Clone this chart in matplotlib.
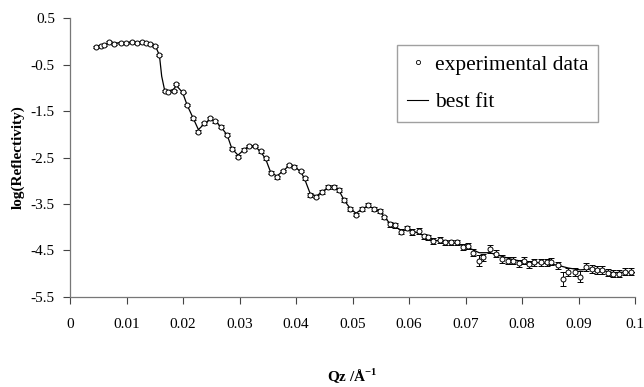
import matplotlib
matplotlib.use("Agg")
import matplotlib.pyplot as plt
from matplotlib.lines import Line2D

plt.rcParams['font.family'] = ['Liberation Serif', 'DejaVu Serif']
plt.rcParams['mathtext.fontset'] = 'custom'
plt.rcParams['mathtext.rm'] = 'Liberation Serif'
plt.rcParams['mathtext.bf'] = 'Liberation Serif:bold'

# measured reflectivity (log10) vs momentum transfer
q = [0.0046, 0.0054, 0.0060, 0.0069, 0.0077, 0.0090, 0.0098, 0.0109, 0.0118, 0.0127,
     0.0135, 0.0142, 0.0151, 0.0158, 0.0167, 0.0174, 0.0183, 0.0188, 0.0199, 0.0207,
     0.0218, 0.0227, 0.0237, 0.0248, 0.0257, 0.0267, 0.0278, 0.0286, 0.0297, 0.0308,
     0.0316, 0.0327, 0.0337, 0.0346, 0.0355, 0.0366, 0.0376, 0.0387, 0.0397, 0.0408,
     0.0415, 0.0425, 0.0436, 0.0446, 0.0457, 0.0467, 0.0476, 0.0485, 0.0496, 0.0506,
     0.0517, 0.0527, 0.0538, 0.0548, 0.0555, 0.0566, 0.0575, 0.0585, 0.0596, 0.0606,
     0.0617, 0.0626, 0.0634, 0.0643, 0.0654, 0.0664, 0.0675, 0.0685, 0.0696, 0.0705,
     0.0714, 0.0724, 0.0731, 0.0743, 0.0754, 0.0765, 0.0775, 0.0784, 0.0794, 0.0803,
     0.0812, 0.0822, 0.0833, 0.0844, 0.0852, 0.0863, 0.0872, 0.0882, 0.0893, 0.0903,
     0.0914, 0.0924, 0.0933, 0.0942, 0.0953, 0.0961, 0.0972, 0.0982, 0.0993]
log_r = [-0.12, -0.10, -0.08, -0.01, -0.05, -0.03, -0.03, -0.01, -0.03, -0.01,
         -0.03, -0.05, -0.10, -0.30, -1.06, -1.08, -1.06, -0.92, -1.10, -1.37,
         -1.66, -1.94, -1.76, -1.66, -1.72, -1.84, -2.01, -2.31, -2.48, -2.33,
         -2.25, -2.25, -2.37, -2.52, -2.83, -2.93, -2.79, -2.66, -2.70, -2.79,
         -2.95, -3.30, -3.34, -3.24, -3.13, -3.13, -3.20, -3.42, -3.61, -3.73,
         -3.61, -3.52, -3.61, -3.65, -3.79, -3.94, -3.96, -4.10, -4.02, -4.10,
         -4.08, -4.20, -4.22, -4.30, -4.28, -4.33, -4.33, -4.33, -4.43, -4.41,
         -4.55, -4.72, -4.65, -4.47, -4.57, -4.69, -4.72, -4.72, -4.78, -4.72,
         -4.80, -4.76, -4.76, -4.76, -4.74, -4.82, -5.11, -4.96, -4.96, -5.07,
         -4.86, -4.90, -4.92, -4.92, -4.98, -5.00, -5.00, -4.96, -4.96]
err = [0.02, 0.02, 0.02, 0.02, 0.02, 0.02, 0.02, 0.02, 0.02, 0.02,
       0.02, 0.02, 0.02, 0.02, 0.02, 0.02, 0.02, 0.02, 0.02, 0.02,
       0.03, 0.03, 0.03, 0.03, 0.03, 0.03, 0.03, 0.03, 0.03, 0.03,
       0.03, 0.03, 0.03, 0.03, 0.03, 0.03, 0.03, 0.03, 0.03, 0.03,
       0.04, 0.04, 0.04, 0.04, 0.04, 0.04, 0.04, 0.04, 0.04, 0.04,
       0.04, 0.04, 0.04, 0.04, 0.04, 0.05, 0.05, 0.05, 0.05, 0.06,
       0.06, 0.06, 0.06, 0.06, 0.06, 0.06, 0.06, 0.06, 0.07, 0.07,
       0.08, 0.12, 0.08, 0.08, 0.08, 0.08, 0.08, 0.08, 0.08, 0.08,
       0.08, 0.08, 0.08, 0.08, 0.08, 0.08, 0.15, 0.09, 0.09, 0.12,
       0.08, 0.08, 0.08, 0.08, 0.08, 0.08, 0.08, 0.08, 0.08]

# model curve
fit_q = [0.0046, 0.0069, 0.0090, 0.0109, 0.0127, 0.0142, 0.0151, 0.0158, 0.0162, 0.0167,
         0.0174, 0.0183, 0.0188, 0.0199, 0.0207, 0.0218, 0.0227, 0.0237, 0.0248, 0.0257,
         0.0267, 0.0278, 0.0286, 0.0297, 0.0308, 0.0316, 0.0327, 0.0337, 0.0346, 0.0355,
         0.0366, 0.0376, 0.0387, 0.0397, 0.0408, 0.0415, 0.0425, 0.0436, 0.0446, 0.0457,
         0.0467, 0.0476, 0.0485, 0.0496, 0.0506, 0.0517, 0.0527, 0.0538, 0.0548, 0.0566,
         0.0585, 0.0606, 0.0626, 0.0643, 0.0664, 0.0685, 0.0705, 0.0724, 0.0743, 0.0765,
         0.0784, 0.0803, 0.0822, 0.0844, 0.0863, 0.0882, 0.0903, 0.0924, 0.0942, 0.0961,
         0.0982, 0.1000]
fit_r = [-0.11, -0.04, -0.03, -0.02, -0.02, -0.04, -0.10, -0.30, -0.75, -1.04,
         -1.07, -1.03, -0.95, -1.10, -1.37, -1.66, -1.90, -1.78, -1.68, -1.72,
         -1.84, -2.02, -2.30, -2.45, -2.33, -2.26, -2.26, -2.37, -2.53, -2.82,
         -2.90, -2.80, -2.68, -2.70, -2.80, -2.96, -3.28, -3.33, -3.24, -3.14,
         -3.14, -3.21, -3.42, -3.60, -3.70, -3.61, -3.54, -3.60, -3.66, -3.92,
         -4.06, -4.08, -4.18, -4.28, -4.31, -4.35, -4.44, -4.55, -4.55, -4.63,
         -4.70, -4.74, -4.76, -4.78, -4.82, -4.88, -4.92, -4.90, -4.93, -4.98,
         -4.97, -4.98]

xticks = [0, 0.01, 0.02, 0.03, 0.04, 0.05, 0.06, 0.07, 0.08, 0.09, 0.1]
xticklabels = ['0', '0.01', '0.02', '0.03', '0.04', '0.05', '0.06', '0.07', '0.08', '0.09', '0.1']
yticks = [0.5, -0.5, -1.5, -2.5, -3.5, -4.5, -5.5]

fig = plt.figure(figsize=(6.44, 3.87), dpi=100)
ax = fig.add_axes([0.109, 0.233, 0.877, 0.72])

ax.plot(fit_q, fit_r, '-', color='black', lw=0.9, zorder=2)
ax.errorbar(q, log_r, yerr=err, fmt='o', ms=3.6, mfc='white', mec='black',
            mew=0.7, ecolor='black', elinewidth=0.7, capsize=2.2, capthick=0.7,
            zorder=3)

ax.set_xlim(0, 0.1)
ax.set_ylim(-5.5, 0.5)
ax.set_xticks(xticks)
ax.set_xticklabels(xticklabels)
ax.set_yticks(yticks)
ax.set_yticklabels(['%g' % t for t in yticks])
ax.tick_params(direction='out', length=5, width=0.8, labelsize=11, color='#444444')
ax.tick_params(axis='x', pad=10)
ax.tick_params(axis='y', pad=6)

for s in ['top', 'right']:
    ax.spines[s].set_visible(False)
for s in ['left', 'bottom']:
    ax.spines[s].set_color('#777777')
    ax.spines[s].set_linewidth(0.9)

ax.set_ylabel('log(Reflectivity)', fontsize=11, fontweight='bold', labelpad=4)
ax.set_xlabel(r'Qz /Å$^{\mathbf{-1}}$', fontsize=11, fontweight='bold', labelpad=26)

handles = [Line2D([], [], ls='none', marker='o', ms=3, mfc='white', mec='black', mew=0.6),
           Line2D([], [], color='black', lw=0.8)]
leg = ax.legend(handles, ['experimental data', 'best fit'], loc='upper left',
                bbox_to_anchor=(0.579, 0.903), borderaxespad=0, frameon=True,
                fancybox=False, fontsize=15.5, labelspacing=0.8, handlelength=1.0,
                handletextpad=0.3, borderpad=0.45)
leg.get_frame().set_edgecolor('#888888')
leg.get_frame().set_linewidth(1.0)

fig.savefig('out.png', dpi=100)
